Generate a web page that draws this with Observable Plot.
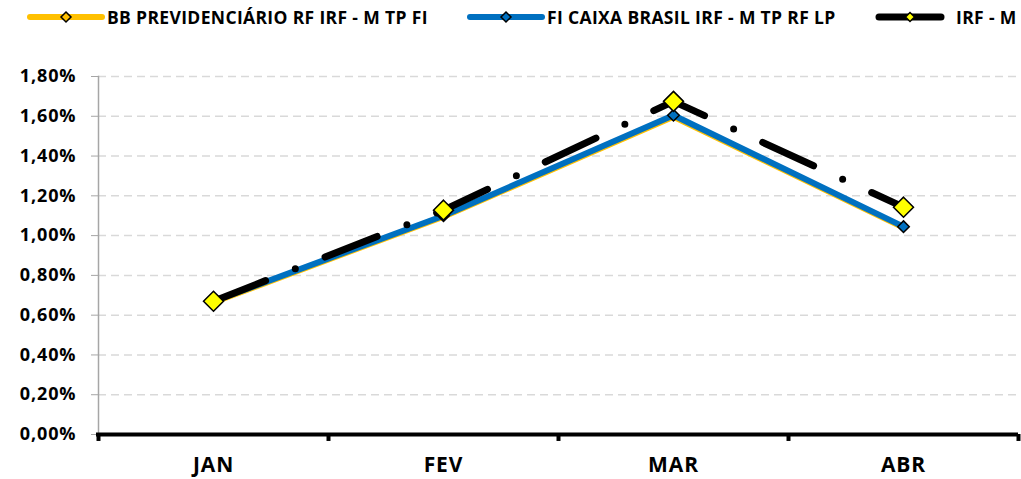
<!DOCTYPE html>
<html>
<head>
<meta charset="utf-8">
<script src="https://cdn.jsdelivr.net/npm/d3@7"></script>
<script src="https://cdn.jsdelivr.net/npm/@observablehq/plot@0.6"></script>
<style>
  html, body { margin: 0; padding: 0; background: #fff; }
  #wrap { position: relative; width: 1021px; height: 479px; font-family: "Open Sans", sans-serif; }
  #legend { position: relative; height: 26px; width: 1021px; }
  .item { position: absolute; top: 5.5px; height: 22px; display: flex; align-items: center; }
  .item span { font-weight: bold; font-size: 17.5px; color: #000; white-space: nowrap; letter-spacing: 0.35px; }
  svg.plot { display: block; }
  #chart text { letter-spacing: 0.9px; }
</style>
</head>
<body>
<div id="wrap">
  <div id="legend"></div>
  <div id="chart"></div>
</div>
<script>
const months = ["JAN", "FEV", "MAR", "ABR"];
const seriesNames = ["BB PREVIDENCIÁRIO RF IRF - M TP FI", "FI CAIXA BRASIL IRF - M TP RF LP", "IRF - M"];
const bbValues = [0.665, 1.095, 1.598, 1.040];
const caixaValues = [0.670, 1.100, 1.605, 1.045];
const irfmValues = [0.670, 1.128, 1.675, 1.143];
const yTicks = [0, 0.2, 0.4, 0.6, 0.8, 1.0, 1.2, 1.4, 1.6, 1.8];

const colors = {bb: "#FFC000", caixa: "#0070C0", irfm: "#000000"};

const toRows = (vals, s) => vals.map((v, i) => ({month: months[i], value: v, series: s}));
const bb = toRows(bbValues, seriesNames[0]);
const caixa = toRows(caixaValues, seriesNames[1]);
const irfm = toRows(irfmValues, seriesNames[2]);

const W = 1021, H = 453, ML = 98, MR = 3, MT = 50, MB = 45;
const half = (W - ML - MR) / months.length / 2;
const fmt = d => d.toFixed(2).replace(".", ",") + "%";

// Legend
const legendItems = [
  {name: seriesNames[0], left: 26, sw: 80, line: colors.bb, lw: 6, mfill: colors.bb, ms: 5},
  {name: seriesNames[1], left: 466, sw: 80, line: colors.caixa, lw: 6, mfill: colors.caixa, ms: 5},
  {name: seriesNames[2], left: 875, sw: 70, line: colors.irfm, lw: 7, mfill: "#FFFF00", ms: 4.5}
];
const legend = document.getElementById("legend");
legendItems.forEach((it, k) => {
  const div = document.createElement("div");
  div.className = "item";
  div.style.left = it.left + "px";
  const sw = it.sw;
  const mid = sw / 2;
  div.innerHTML = `<svg width="${sw}" height="22"><line x1="4" x2="${sw - 4}" y1="11" y2="11" stroke="${it.line}" stroke-width="${it.lw}" stroke-linecap="round"/>` +
    `<path d="M${mid},${11 - it.ms}L${mid + it.ms},11L${mid},${11 + it.ms}L${mid - it.ms},11Z" fill="${it.mfill}" stroke="#000" stroke-width="1.5"/></svg>` +
    `<span style="margin-left:${k === 2 ? 11 : 1}px">${it.name}</span>`;
  legend.appendChild(div);
});

const chart = Plot.plot({
  width: W,
  height: H,
  marginLeft: ML,
  marginRight: MR,
  marginTop: MT,
  marginBottom: MB,
  style: {fontFamily: "'Open Sans', sans-serif", background: "#fff", overflow: "visible"},
  x: {type: "point", domain: months, padding: 0.5},
  y: {domain: [0, 1.8]},
  marks: [
    Plot.gridY(yTicks.filter(d => d > 0), {stroke: "#d9d9d9", strokeOpacity: 1, strokeWidth: 1.5, strokeDasharray: "8,5"}),
    Plot.frame({anchor: "left", stroke: "#a6a6a6", strokeWidth: 1.5}),
    Plot.axisY(yTicks, {tickSize: 7, tickPadding: 15, stroke: "#a6a6a6", tickFormat: fmt, fontSize: 18, fontWeight: "bold", fill: "#000", label: null}),
    Plot.axisX({tickSize: 0, tickPadding: 23, fontSize: 21, fontWeight: "bold", fill: "#000", label: null}),
    Plot.ruleY([0], {stroke: "#000", strokeWidth: 4, insetLeft: -2}),
    Plot.ruleX(months, {x: d => d, dx: -half, y1: 0, y2: -0.035, stroke: "#000", strokeWidth: 4}),
    Plot.ruleX(months.slice(-1), {x: d => d, dx: half, y1: 0, y2: -0.035, stroke: "#000", strokeWidth: 4}),
    Plot.line(bb, {x: "month", y: "value", stroke: colors.bb, strokeWidth: 6, strokeLinejoin: "round", strokeLinecap: "round"}),
    Plot.line(caixa, {x: "month", y: "value", stroke: colors.caixa, strokeWidth: 6, strokeLinejoin: "round", strokeLinecap: "round"}),
    Plot.dot(caixa, {x: "month", y: "value", symbol: "diamond2", r: 5.2, fill: colors.caixa, stroke: "#000", strokeWidth: 1.5}),
    Plot.line(irfm, {x: "month", y: "value", stroke: colors.irfm, strokeWidth: 7, strokeLinejoin: "round", strokeLinecap: "round", strokeDasharray: "56,32,0,32"}),
    Plot.dot(irfm, {x: "month", y: "value", symbol: "diamond2", r: 9, fill: "#FFFF00", stroke: "#000", strokeWidth: 1.5})
  ]
});
document.getElementById("chart").appendChild(chart);
</script>
</body>
</html>
